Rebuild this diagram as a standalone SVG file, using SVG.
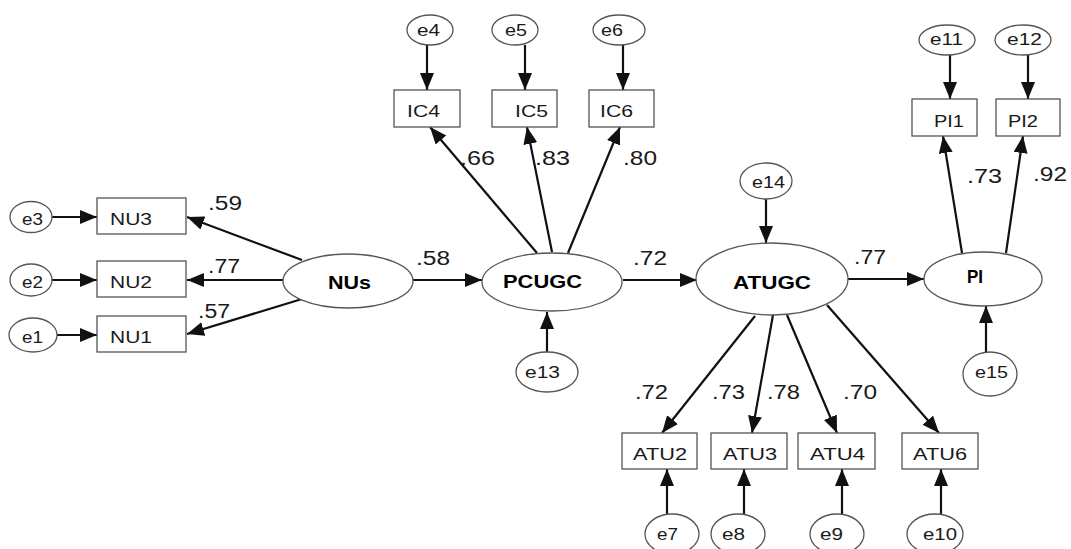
<svg xmlns="http://www.w3.org/2000/svg" width="1071" height="549" viewBox="0 0 1071 549">
<style>
.bg{fill:#fff}
.box{fill:#fff;stroke:#555;stroke-width:1.3}
.ell{fill:#fff;stroke:#555;stroke-width:1.3}
.con line{stroke:#111;stroke-width:2.2;marker-end:url(#ah)}
.t{font-family:"Liberation Sans",Arial,sans-serif;font-size:17px;fill:#1a1a1a}
.c{font-family:"Liberation Sans",Arial,sans-serif;font-size:20px;fill:#1a1a1a}
.b{font-family:"Liberation Sans",Arial,sans-serif;font-size:18px;font-weight:bold;fill:#000}
</style>
<defs>
<marker id="ah" markerUnits="userSpaceOnUse" markerWidth="18" markerHeight="15" refX="17" refY="7" orient="auto">
<path d="M0,0 L17,7 L0,14 z" fill="#111"/>
</marker>
</defs>
<rect class="bg" width="1071" height="549"/>
<g id="connectors" class="con">
<line x1="302" y1="260" x2="187" y2="217"/>
<line x1="283" y1="280" x2="187" y2="280"/>
<line x1="302" y1="299" x2="187" y2="334"/>
<line x1="52" y1="217" x2="97" y2="217"/>
<line x1="52" y1="280" x2="97" y2="280"/>
<line x1="57" y1="335" x2="97" y2="335"/>
<line x1="413" y1="280" x2="482" y2="280"/>
<line x1="537" y1="253" x2="430" y2="127"/>
<line x1="552" y1="252" x2="527" y2="127"/>
<line x1="568" y1="253" x2="620" y2="127"/>
<line x1="427" y1="45" x2="427" y2="90"/>
<line x1="525" y1="45" x2="525" y2="90"/>
<line x1="623" y1="45" x2="623" y2="90"/>
<line x1="547" y1="352" x2="547" y2="312"/>
<line x1="623" y1="280" x2="697" y2="280"/>
<line x1="766" y1="199" x2="766" y2="243"/>
<line x1="848" y1="279" x2="924" y2="279"/>
<line x1="962" y1="253" x2="943" y2="136"/>
<line x1="1006" y1="253" x2="1023" y2="136"/>
<line x1="950" y1="55" x2="950" y2="99"/>
<line x1="1028" y1="55" x2="1028" y2="99"/>
<line x1="986" y1="352" x2="986" y2="306"/>
<line x1="755" y1="316" x2="662" y2="433"/>
<line x1="773" y1="315" x2="752" y2="433"/>
<line x1="787" y1="315" x2="837" y2="433"/>
<line x1="827" y1="305" x2="939" y2="433"/>
<line x1="667" y1="514" x2="667" y2="469"/>
<line x1="744" y1="514" x2="744" y2="469"/>
<line x1="842" y1="514" x2="842" y2="469"/>
<line x1="941" y1="514" x2="941" y2="469"/>
</g>
<g id="labels">
<text class="c" x="208" y="210" textLength="34" lengthAdjust="spacingAndGlyphs">.59</text>
<text class="c" x="208" y="273" textLength="32" lengthAdjust="spacingAndGlyphs">.77</text>
<text class="c" x="198" y="318" textLength="32" lengthAdjust="spacingAndGlyphs">.57</text>
<text class="c" x="416" y="265" textLength="34" lengthAdjust="spacingAndGlyphs">.58</text>
<text class="c" x="460" y="165" textLength="35" lengthAdjust="spacingAndGlyphs">.66</text>
<text class="c" x="535" y="165" textLength="35" lengthAdjust="spacingAndGlyphs">.83</text>
<text class="c" x="623" y="165" textLength="34" lengthAdjust="spacingAndGlyphs">.80</text>
<text class="c" x="633" y="265" textLength="34" lengthAdjust="spacingAndGlyphs">.72</text>
<text class="c" x="854" y="264" textLength="32" lengthAdjust="spacingAndGlyphs">.77</text>
<text class="c" x="967" y="183" textLength="35" lengthAdjust="spacingAndGlyphs">.73</text>
<text class="c" x="1033" y="181" textLength="34" lengthAdjust="spacingAndGlyphs">.92</text>
<text class="c" x="635" y="399" textLength="33" lengthAdjust="spacingAndGlyphs">.72</text>
<text class="c" x="712" y="399" textLength="33" lengthAdjust="spacingAndGlyphs">.73</text>
<text class="c" x="767" y="399" textLength="33" lengthAdjust="spacingAndGlyphs">.78</text>
<text class="c" x="843" y="399" textLength="34" lengthAdjust="spacingAndGlyphs">.70</text>
</g>
<g id="e3"><ellipse class="ell" cx="31" cy="217" rx="21" ry="15.5"/><text class="t" x="22" y="225" textLength="21" lengthAdjust="spacingAndGlyphs">e3</text></g>
<g id="e2"><ellipse class="ell" cx="31" cy="280" rx="21" ry="16"/><text class="t" x="22" y="288" textLength="21" lengthAdjust="spacingAndGlyphs">e2</text></g>
<g id="e1"><ellipse class="ell" cx="33" cy="335" rx="24" ry="17"/><text class="t" x="22" y="343" textLength="21" lengthAdjust="spacingAndGlyphs">e1</text></g>
<g id="NU3"><rect class="box" x="97" y="198" width="89" height="36"/><text class="t" x="110" y="225" textLength="42" lengthAdjust="spacingAndGlyphs">NU3</text></g>
<g id="NU2"><rect class="box" x="97" y="261" width="89" height="36"/><text class="t" x="110" y="288" textLength="42" lengthAdjust="spacingAndGlyphs">NU2</text></g>
<g id="NU1"><rect class="box" x="97" y="316" width="89" height="36"/><text class="t" x="110" y="343" textLength="42" lengthAdjust="spacingAndGlyphs">NU1</text></g>
<g id="NUs"><ellipse class="ell" cx="348" cy="281" rx="65" ry="27"/><text class="b" x="328" y="289" textLength="43" lengthAdjust="spacingAndGlyphs">NUs</text></g>
<g id="e4"><ellipse class="ell" cx="430" cy="30" rx="23" ry="15"/><text class="t" x="417" y="36" textLength="23" lengthAdjust="spacingAndGlyphs">e4</text></g>
<g id="e5"><ellipse class="ell" cx="515" cy="30" rx="23" ry="15"/><text class="t" x="505" y="36" textLength="22" lengthAdjust="spacingAndGlyphs">e5</text></g>
<g id="e6"><ellipse class="ell" cx="619" cy="30" rx="26" ry="15"/><text class="t" x="601" y="36" textLength="22" lengthAdjust="spacingAndGlyphs">e6</text></g>
<g id="IC4"><rect class="box" x="394" y="90" width="66" height="37"/><text class="t" x="407" y="117" textLength="33" lengthAdjust="spacingAndGlyphs">IC4</text></g>
<g id="IC5"><rect class="box" x="492" y="90" width="65" height="37"/><text class="t" x="515" y="117" textLength="33" lengthAdjust="spacingAndGlyphs">IC5</text></g>
<g id="IC6"><rect class="box" x="589" y="90" width="65" height="37"/><text class="t" x="600" y="117" textLength="33" lengthAdjust="spacingAndGlyphs">IC6</text></g>
<g id="PCUGC"><ellipse class="ell" cx="552" cy="282" rx="70" ry="29"/><text class="b" x="503" y="288" textLength="79" lengthAdjust="spacingAndGlyphs">PCUGC</text></g>
<g id="e13"><ellipse class="ell" cx="547" cy="372" rx="31" ry="20"/><text class="t" x="525" y="378" textLength="35" lengthAdjust="spacingAndGlyphs">e13</text></g>
<g id="e14"><ellipse class="ell" cx="766" cy="181" rx="26" ry="18"/><text class="t" x="752" y="188" textLength="33" lengthAdjust="spacingAndGlyphs">e14</text></g>
<g id="ATUGC"><ellipse class="ell" cx="772" cy="279" rx="76" ry="36"/><text class="b" x="733" y="289" textLength="78" lengthAdjust="spacingAndGlyphs">ATUGC</text></g>
<g id="PI"><ellipse class="ell" cx="983" cy="279" rx="59" ry="27"/><text class="b" x="967" y="283" textLength="16" lengthAdjust="spacingAndGlyphs">PI</text></g>
<g id="e15"><ellipse class="ell" cx="990" cy="374" rx="27" ry="22"/><text class="t" x="975" y="378" textLength="33" lengthAdjust="spacingAndGlyphs">e15</text></g>
<g id="e11"><ellipse class="ell" cx="947" cy="40" rx="28" ry="15"/><text class="t" x="930" y="45" textLength="33" lengthAdjust="spacingAndGlyphs">e11</text></g>
<g id="e12"><ellipse class="ell" cx="1023" cy="40" rx="28" ry="15"/><text class="t" x="1007" y="45" textLength="35" lengthAdjust="spacingAndGlyphs">e12</text></g>
<g id="PI1"><rect class="box" x="912" y="99" width="65" height="37"/><text class="t" x="934" y="127" textLength="30" lengthAdjust="spacingAndGlyphs">PI1</text></g>
<g id="PI2"><rect class="box" x="996" y="99" width="64" height="37"/><text class="t" x="1008" y="127" textLength="30" lengthAdjust="spacingAndGlyphs">PI2</text></g>
<g id="ATU2"><rect class="box" x="622" y="433" width="75" height="36"/><text class="t" x="633" y="460" textLength="54" lengthAdjust="spacingAndGlyphs">ATU2</text></g>
<g id="ATU3"><rect class="box" x="711" y="433" width="76" height="36"/><text class="t" x="723" y="460" textLength="54" lengthAdjust="spacingAndGlyphs">ATU3</text></g>
<g id="ATU4"><rect class="box" x="798" y="433" width="77" height="36"/><text class="t" x="810" y="460" textLength="55" lengthAdjust="spacingAndGlyphs">ATU4</text></g>
<g id="ATU6"><rect class="box" x="902" y="433" width="76" height="36"/><text class="t" x="913" y="460" textLength="54" lengthAdjust="spacingAndGlyphs">ATU6</text></g>
<g id="e7"><ellipse class="ell" cx="672" cy="534" rx="27" ry="20"/><text class="t" x="657" y="540" textLength="21" lengthAdjust="spacingAndGlyphs">e7</text></g>
<g id="e8"><ellipse class="ell" cx="738" cy="534" rx="27" ry="20"/><text class="t" x="722" y="540" textLength="23" lengthAdjust="spacingAndGlyphs">e8</text></g>
<g id="e9"><ellipse class="ell" cx="837" cy="534" rx="27" ry="20"/><text class="t" x="820" y="540" textLength="23" lengthAdjust="spacingAndGlyphs">e9</text></g>
<g id="e10"><ellipse class="ell" cx="935" cy="534" rx="28" ry="20"/><text class="t" x="923" y="540" textLength="34" lengthAdjust="spacingAndGlyphs">e10</text></g>
</svg>
